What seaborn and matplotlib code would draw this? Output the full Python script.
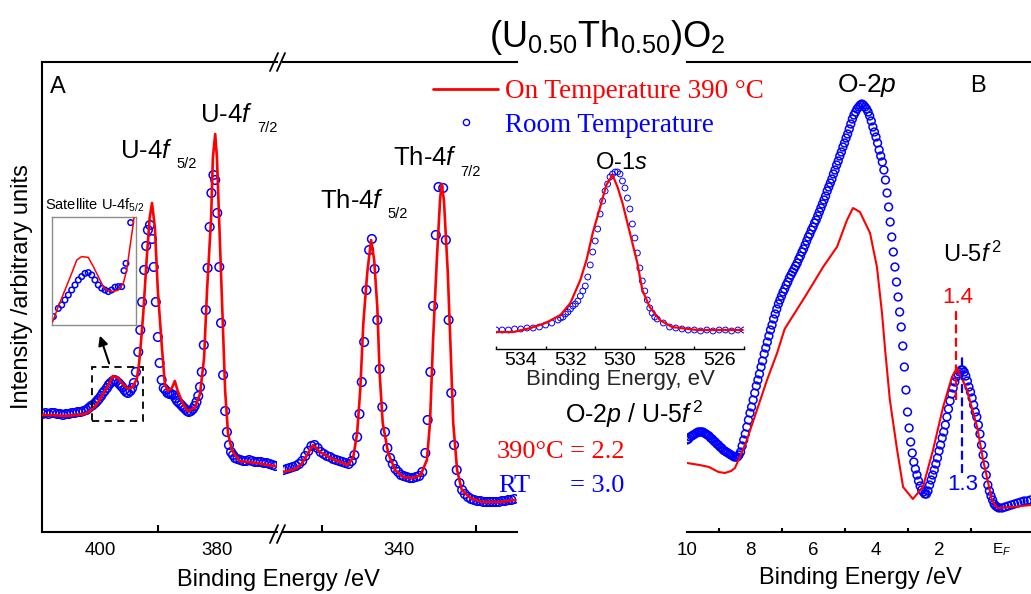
import matplotlib
matplotlib.use("Agg")
import matplotlib.pyplot as plt
from matplotlib.lines import Line2D
from matplotlib.patches import Rectangle, FancyArrowPatch
import seaborn as sns

sns.set_theme(style="white")
plt.rcParams["font.family"] = ["Liberation Sans", "DejaVu Sans"]
plt.rcParams["mathtext.fontset"] = "custom"
plt.rcParams["mathtext.rm"] = "Liberation Sans"
plt.rcParams["mathtext.it"] = "Liberation Sans:italic"
plt.rcParams["mathtext.bf"] = "Liberation Sans:bold"
plt.rcParams["axes.edgecolor"] = "black"
plt.rcParams["xtick.color"] = "black"
plt.rcParams["text.color"] = "black"

RED = "#ff0000"
BLUE = "#0000ff"
W, H = 1031, 594

# ---- panel A, U-4f region (binding energy eV, intensity a.u.) ----
red_a1_e = [409.9, 408.0, 406.0, 404.0, 402.5, 401.7, 400.6, 400.0, 398.8, 397.8,
            396.9, 396.1, 395.2, 394.4, 393.7, 393.3, 393.0, 392.6, 392.0, 391.5,
            391.1, 390.6, 390.1, 389.4, 388.9, 388.4, 387.7, 387.2, 386.7, 385.8,
            385.0, 383.8, 382.9, 382.2, 381.7, 381.0, 380.7, 380.3, 380.0, 379.5,
            379.0, 378.6, 378.1, 377.4, 376.1, 373.2, 370.4, 369.8]
red_a1_i = [117, 117, 116, 117, 118, 121, 127, 133, 144, 156,
            154, 148, 143, 145, 153, 169, 189, 218, 274, 314,
            329, 304, 241, 184, 148, 141, 144, 151, 141, 128,
            121, 124, 138, 174, 241, 314, 374, 398, 374, 291,
            208, 141, 98, 81, 71, 69, 66, 66]

blue_a1_e = [409.8, 409.3, 408.8, 408.3, 407.8, 407.3, 406.8, 406.3, 405.8, 405.3,
             404.8, 404.3, 403.8, 403.3, 402.8, 402.3, 401.9,
             401.5, 401.2, 400.8, 400.5, 400.2, 399.8, 399.5, 399.2, 398.8, 398.5,
             398.2, 397.8, 397.5, 397.2, 396.8, 396.5, 396.2, 395.8, 395.5, 395.2,
             394.8, 394.5, 394.2, 393.85,
             393.45, 393.1, 392.8, 392.45, 392.1, 391.8, 391.45, 391.1, 390.8, 390.45,
             390.1, 389.8, 389.45, 389.1,
             388.8, 388.45, 388.1, 387.8, 387.45, 387.1, 386.8, 386.45, 386.1, 385.8,
             385.45, 385.1, 384.8, 384.45, 384.1, 383.8, 383.5, 383.2,
             382.9, 382.6, 382.25, 381.9, 381.6, 381.25, 380.95, 380.6, 380.3, 379.95,
             379.6, 379.3, 378.95, 378.6, 378.3, 377.95, 377.6, 377.25,
             376.9, 376.5, 376.0, 375.5, 375.0, 374.5, 374.0, 373.5, 373.0, 372.5,
             372.0, 371.5, 371.0, 370.5, 370.0]
blue_a1_i = [118, 119, 118, 119, 119, 118, 118, 117, 118, 118,
             119, 119, 120, 120, 121, 122, 124,
             126, 127, 129, 131, 133, 136, 139, 141, 144, 147,
             149, 151, 152, 151, 149, 147, 145, 142, 140, 139,
             141, 144, 149, 160,
             180, 202, 230, 262, 286, 302, 307, 293, 265, 230,
             195, 169, 152, 144,
             142, 139, 138, 138, 137, 134, 131, 129, 127, 125,
             123, 121, 120, 121, 123, 126, 130, 136,
             145, 160, 187, 222, 264, 305, 339, 357, 352, 319,
             265, 209, 157, 121, 100, 87, 80, 77,
             74, 73, 72, 71, 71, 72, 71, 70, 70, 70,
             69, 69, 68, 67, 66]

# ---- panel A, Th-4f region ----
red_a2_e = [355.0, 354.5, 353.7, 353.0, 352.5, 351.7, 351.1, 350.2, 348.9, 347.6,
            346.6, 345.9, 345.4, 345.0, 344.6, 344.1, 343.6, 343.2, 342.8, 342.5,
            342.1, 341.4, 340.5, 339.5, 338.2, 337.2, 336.4, 336.0, 335.6, 335.1,
            334.7, 334.5, 334.2, 333.7, 333.3, 333.0, 332.5, 331.9, 330.8, 329.2,
            327.0, 325.0]
red_a2_i = [60, 61, 62, 65, 69, 79, 87, 80, 74, 70,
            67, 75, 99, 142, 209, 259, 292, 272, 225, 159,
            109, 79, 62, 55, 54, 57, 72, 109, 192, 275,
            332, 348, 332, 259, 175, 109, 62, 42, 34, 30,
            30, 32]

blue_a2_e = [354.9, 354.5, 354.1, 353.7, 353.3, 352.9, 352.5, 352.1, 351.7, 351.3,
             350.9, 350.5, 350.1, 349.7, 349.3, 348.9, 348.5, 348.1, 347.7, 347.3,
             346.9, 346.5, 346.1,
             345.75, 345.4, 345.1, 344.8, 344.5, 344.2, 343.85, 343.5, 343.15, 342.8,
             342.5, 342.15, 341.8, 341.5, 341.15, 340.8,
             340.45, 340.1, 339.75, 339.4, 339.0, 338.6, 338.2, 337.8, 337.4, 337.0,
             336.6, 336.3, 335.95, 335.6, 335.25, 334.9, 334.3, 333.95, 333.6, 333.25,
             332.9, 332.55, 332.2,
             331.85, 331.5, 331.1, 330.7, 330.3, 329.9, 329.5, 329.1, 328.7, 328.3,
             327.9, 327.5, 327.1, 326.7, 326.3, 325.9, 325.5, 325.1]
blue_a2_i = [62, 63, 64, 65, 66, 68, 71, 76, 81, 86,
             87, 84, 80, 78, 76, 75, 73, 72, 71, 70,
             69, 68, 71,
             77, 95, 118, 150, 190, 242, 282, 293, 263, 212,
             163, 125, 100, 84, 74, 68,
             63, 60, 57, 56, 55, 54, 54, 55, 56, 60,
             79, 112, 160, 226, 297, 345, 344, 292, 212, 139,
             87, 62, 49,
             42, 38, 35, 33, 32, 31, 31, 30, 30, 30,
             30, 30, 30, 31, 31, 32, 32, 33]

# ---- satellite U-4f5/2 close-up ----
sat_e_range = (401.4, 392.6)
sat_i_range = (111, 165)
red_s_e = [401.33, 400.74, 400.04, 399.34, 398.81, 398.29, 397.6, 397.07, 396.55,
           396.03, 395.67, 394.98, 394.45, 393.93, 393.57, 393.23, 392.88, 392.81]
red_s_i = [112.7, 120.2, 128.5, 136.8, 143.5, 145.2, 144.8, 140.2, 135.2,
           130.2, 128.5, 127.7, 128.5, 131.8, 138.5, 150.2, 161.8, 164.8]
blue_s_e = [401.26, 400.74, 400.38, 400.04, 399.69, 399.34, 398.99, 398.64, 398.29,
            397.94, 397.6, 397.24, 396.9, 396.55, 396.19, 395.85, 395.5, 395.15,
            394.8, 394.45, 394.1, 393.86, 393.65, 393.16]
blue_s_i = [115.2, 119.3, 121.0, 123.5, 126.0, 128.5, 131.0, 133.5, 135.2,
            136.8, 137.2, 136.0, 133.5, 131.0, 129.4, 128.5, 127.7, 128.5,
            129.9, 130.2, 130.2, 138.2, 141.8, 162.2]

# ---- O-1s inset ----
red_o_e = [535.0, 534.3, 533.6, 533.0, 532.4, 532.0, 531.6, 531.35, 531.1, 530.8,
           530.55, 530.3, 530.1, 529.9, 529.6, 529.3, 529.1, 528.8, 528.4, 527.9,
           526.9, 526.0, 525.05]
red_o_i = [17, 17, 21, 26, 34, 46, 69, 89, 116, 142,
           164, 174, 162, 146, 116, 86, 59, 42, 29, 22,
           19, 19, 19]
blue_o_e = [535.0, 534.75, 534.5, 534.25, 534.0, 533.75, 533.5, 533.25, 533.0, 532.75, 532.5,
            532.4, 532.3, 532.2, 532.1, 532.0, 531.9, 531.8, 531.7, 531.6, 531.5,
            531.4, 531.3, 531.2, 531.1, 531.0, 530.9, 530.8, 530.7, 530.6, 530.5,
            530.4, 530.3, 530.2, 530.1, 530.0, 529.9, 529.8, 529.7, 529.6, 529.5,
            529.4, 529.3, 529.2, 529.1, 529.0, 528.9, 528.8, 528.7, 528.6, 528.5,
            528.25, 528.0, 527.75, 527.5, 527.25, 527.0, 526.75, 526.5, 526.25, 526.0,
            525.75, 525.5, 525.25, 525.0]
blue_o_i = [19, 19, 19, 20, 20, 21, 21, 22, 24, 26, 29,
            31, 32, 35, 37, 40, 43, 45, 48, 53, 58,
            63, 72, 84, 97, 108, 120, 135, 148, 158, 165,
            172, 175, 177, 177, 175, 168, 161, 151, 140, 125,
            111, 96, 81, 68, 58, 49, 41, 36, 32, 30,
            26, 22, 21, 20, 19, 19, 18, 19, 18, 19,
            19, 18, 19, 19]

# ---- panel B, valence band ----
red_b_e = [10.0, 9.6, 9.3, 9.0, 8.8, 8.6, 8.48, 8.32, 8.1, 7.78,
           7.46, 7.14, 6.9, 6.6, 6.2, 5.68, 5.24, 4.92, 4.73, 4.51,
           4.19, 3.97, 3.81, 3.71, 3.56, 3.33, 3.14, 2.83, 2.51, 2.19,
           1.87, 1.59, 1.43, 1.11, 0.79, 0.60, 0.32, 0.16, -0.35, -0.92]
red_b_i = [69, 67, 65, 60, 59, 61, 64, 75, 92, 122,
           152, 179, 203, 218, 238, 265, 285, 312, 324, 320,
           299, 265, 219, 182, 132, 82, 45, 33, 45, 82,
           125, 155, 164, 142, 105, 72, 32, 24, 25, 27]

blue_b_e = [10.0, 9.95, 9.9, 9.85, 9.8, 9.75, 9.7, 9.65, 9.6, 9.55,
            9.5, 9.45, 9.4, 9.35, 9.3, 9.25, 9.2, 9.15, 9.1, 9.05,
            9.0, 8.95, 8.9, 8.85, 8.8, 8.75, 8.7, 8.65, 8.6, 8.55,
            8.5, 8.45, 8.4, 8.35, 8.3, 8.25, 8.2, 8.15, 8.1, 8.05,
            8.0, 7.95, 7.9, 7.85, 7.8, 7.75, 7.7, 7.65, 7.6, 7.55,
            7.5, 7.45, 7.4, 7.35, 7.3, 7.25, 7.2, 7.15, 7.1, 7.05,
            7.0, 6.95, 6.9, 6.85, 6.8, 6.75, 6.7, 6.65, 6.6, 6.55,
            6.5, 6.45, 6.4, 6.35, 6.3, 6.25, 6.2, 6.15, 6.1, 6.05,
            6.0, 5.95, 5.9, 5.85, 5.8, 5.75, 5.7, 5.65, 5.6, 5.55,
            5.5, 5.45, 5.4, 5.35, 5.3, 5.25, 5.2, 5.15, 5.1, 5.05,
            5.0, 4.95, 4.9, 4.85, 4.8, 4.75, 4.7, 4.65, 4.6, 4.55,
            4.5, 4.45, 4.4, 4.35, 4.3, 4.25, 4.2, 4.15, 4.1, 4.05,
            4.0,
            3.95, 3.9, 3.85, 3.8, 3.75, 3.7, 3.65, 3.6, 3.55, 3.5,
            3.45, 3.4, 3.35, 3.3, 3.25, 3.2, 3.15, 3.1, 3.05, 3.0,
            2.95, 2.9, 2.85, 2.8, 2.75,
            2.7, 2.65, 2.6, 2.55, 2.5, 2.45, 2.4, 2.35, 2.3, 2.25,
            2.2, 2.15, 2.1, 2.05, 2.0, 1.95, 1.9, 1.85, 1.8, 1.75,
            1.7, 1.65, 1.6, 1.55, 1.5, 1.45, 1.4, 1.35, 1.3, 1.25,
            1.2, 1.15, 1.1, 1.05, 1.0, 0.95, 0.9, 0.85, 0.8, 0.75,
            0.7, 0.65, 0.6, 0.55, 0.5, 0.45, 0.4, 0.35, 0.3, 0.25,
            0.2, 0.15,
            0.1, 0.0, -0.1, -0.2, -0.3, -0.4, -0.5, -0.6, -0.7, -0.8, -0.9]
blue_b_i = [92, 93, 95, 96, 97, 98, 99, 100, 100, 100,
            100, 99, 98, 97, 96, 94, 93, 91, 90, 88,
            87, 85, 84, 82, 81, 80, 79, 78, 77, 76,
            75, 75, 75, 77, 80, 86, 92, 98, 105, 112,
            119, 125, 132, 139, 146, 152, 158, 165, 171, 178,
            184, 190, 196, 202, 207, 213, 218, 223, 228, 232,
            236, 240, 243, 247, 250, 254, 257, 260, 263, 266,
            269, 273, 276, 280, 283, 287, 291, 295, 298, 302,
            305, 309, 312, 316, 320, 324, 328, 332, 336, 341,
            345, 349, 353, 358, 362, 367, 371, 376, 380, 385,
            389, 394, 398, 403, 408, 413, 417, 420, 423, 425,
            427, 428, 427, 425, 423, 420, 416, 411, 405, 400,
            395,
            389, 382, 376, 370, 362, 352, 339, 325, 310, 295,
            280, 265, 250, 235, 220, 205, 186, 165, 142, 120,
            104, 90, 79, 70, 63,
            57, 51, 46, 42, 40, 38, 38, 41, 47, 52,
            57, 62, 68, 74, 81, 87, 94, 100, 107, 115,
            123, 131, 138, 144, 150, 155, 158, 160, 162, 162,
            160, 156, 151, 145, 140, 134, 127, 120, 115, 107,
            98, 87, 77, 67, 57, 47, 41, 36, 32, 28,
            26, 25,
            24, 24, 25, 26, 27, 28, 29, 30, 31, 31, 32]

red_peak_e, red_peak_span = 1.45, (132, 225)
blue_peak_e, blue_peak_span = 1.28, (59, 175)


def fx(x):
    return x / W


def fy(y):
    return 1 - y / H


def box(x0, y0, x1, y1):
    return [fx(x0), fy(y1), (x1 - x0) / W, (y1 - y0) / H]


def draw(ax, e_red, i_red, e_blue, i_blue, ms, mew, lw):
    sns.scatterplot(x=e_blue, y=i_blue, ax=ax, marker="o", s=ms ** 2,
                    linewidth=mew, legend=False, zorder=2)
    coll = ax.collections[-1]
    coll.set_facecolor("none")
    coll.set_edgecolor(BLUE)
    coll.set_linewidth(mew)
    sns.lineplot(x=e_red, y=i_red, ax=ax, color=RED, lw=lw,
                 estimator=None, sort=False, zorder=3)


def style(ax, spines):
    for side, sp in ax.spines.items():
        sp.set_visible(side in spines)
        sp.set_linewidth(1.5)
        sp.set_color("black")
    ax.set_facecolor("none")
    ax.set_yticks([])
    ax.set_xlabel("")
    ax.set_ylabel("")
    ax.grid(False)


def label(x, y, s, **kw):
    kw.setdefault("ha", "left")
    kw.setdefault("va", "baseline")
    fig.text(fx(x), fy(y), s, **kw)


fig = plt.figure(figsize=(W / 100, H / 100), dpi=100)
axL = fig.add_axes(box(42, 62, 277, 532))
axR = fig.add_axes(box(283, 62, 517, 532))
axB = fig.add_axes(box(687, 62, 1031, 532))
axO = fig.add_axes(box(496, 150, 744, 349))
axS = fig.add_axes(box(52, 217, 136, 325))

draw(axL, red_a1_e, red_a1_i, blue_a1_e, blue_a1_i, 6.2, 1.1, 1.9)
draw(axR, red_a2_e, red_a2_i, blue_a2_e, blue_a2_i, 6.2, 1.1, 1.9)
draw(axB, red_b_e, red_b_i, blue_b_e, blue_b_i, 5.6, 1.1, 1.5)
draw(axO, red_o_e, red_o_i, blue_o_e, blue_o_i, 4.2, 0.7, 1.6)
draw(axS, red_s_e, red_s_i, blue_s_e, blue_s_i, 4.0, 1.1, 1.1)

# panel A (broken axis)
style(axL, ["left", "top", "bottom"])
axL.set_xlim(409.9, 369.74)
axL.set_ylim(0, 470)
axL.set_xticks([400, 380])
axL.set_xticks([390], minor=True)
style(axR, ["top", "bottom"])
axR.set_xlim(354.97, 324.77)
axR.set_ylim(0, 470)
axR.set_xticks([340])
axR.set_xticks([350, 330], minor=True)
for ax in (axL, axR):
    ax.tick_params(axis="x", which="major", direction="in", length=8, width=1.5,
                   labelsize=13.5, pad=7, top=False)
    ax.tick_params(axis="x", which="minor", direction="in", length=5, width=1.5,
                   bottom=True, top=False)

axL.add_patch(Rectangle((sat_e_range[0], sat_i_range[0]),
                        sat_e_range[1] - sat_e_range[0],
                        sat_i_range[1] - sat_i_range[0],
                        fill=False, ec="black", lw=1.3, ls=(0, (4, 3)), zorder=4))

# satellite close-up
style(axS, ["left", "right", "top", "bottom"])
for sp in axS.spines.values():
    sp.set_color("#8c8c8c")
    sp.set_linewidth(1.0)
axS.set_xlim(*sat_e_range)
axS.set_ylim(*sat_i_range)
axS.set_xticks([])

# O-1s inset
style(axO, ["bottom"])
axO.spines["bottom"].set_linewidth(1.0)
axO.set_xlim(535, 525)
axO.set_ylim(0, 199)
axO.set_xticks([534, 532, 530, 528, 526])
axO.set_xticks([535, 533, 531, 529, 527, 525], minor=True)
axO.tick_params(axis="x", which="major", direction="in", length=4, width=1.0,
                labelsize=14, pad=2)
axO.tick_params(axis="x", which="minor", direction="in", length=2.5, width=1.0,
                bottom=True)
axO.set_xlabel("Binding Energy, eV", fontsize=16, labelpad=0)

# panel B
style(axB, ["top", "bottom"])
axB.set_xlim(10.0, -0.92)
axB.set_ylim(0, 470)
axB.set_xticks([10, 8, 6, 4, 2, 0], labels=["10", "8", "6", "4", "2", "E$_F$"])
axB.set_xticks([9, 7, 5, 3, 1], minor=True)
axB.tick_params(axis="x", which="major", direction="in", length=5, width=1.5,
                labelsize=13.5, pad=7, top=False)
axB.tick_params(axis="x", which="minor", direction="in", length=3, width=1.5,
                bottom=True, top=False)
axB.get_xticklabels()[-1].set_fontsize(11)
axB.vlines(red_peak_e, *red_peak_span, colors=RED, lw=1.6, linestyles=(0, (4, 2)), zorder=4)
axB.vlines(blue_peak_e, *blue_peak_span, colors=BLUE, lw=1.6, linestyles=(0, (4, 2)), zorder=4)

# axis break marks
for x0 in (270, 277):
    for yb in (71, 543):
        fig.add_artist(Line2D([fx(x0), fx(x0 + 8)], [fy(yb), fy(yb - 18)],
                              color="black", lw=1.3, transform=fig.transFigure))

# arrow from dashed box to close-up
fig.add_artist(FancyArrowPatch(
    (fx(110), fy(366)), (fx(99), fy(333)), transform=fig.transFigure,
    arrowstyle="-|>", mutation_scale=14, color="black", lw=1.5))

# texts
fig.text(fx(607), fy(47), r"(U$_{0.50}$Th$_{0.50}$)O$_2$", fontsize=26,
         ha="center", va="baseline")
label(50, 93, "A", fontsize=17)
label(970, 92, "B", fontsize=17)
label(120, 158, r"U-4$\mathit{f}$", fontsize=18.5)
label(176, 168, "5/2", fontsize=10.5)
label(200, 122, r"U-4$\mathit{f}$", fontsize=18.5)
label(257, 131.5, "7/2", fontsize=10.5)
label(320, 208, r"Th-4$\mathit{f}$", fontsize=18.5)
label(387, 218, "5/2", fontsize=10.5)
label(393, 165, r"Th-4$\mathit{f}$", fontsize=18.5)
label(460, 176.5, "7/2", fontsize=10.5)
label(45, 210, r"Satellite U-4f$_{5/2}$", fontsize=10.5)
fig.text(fx(621), fy(169), r"O-$\mathit{1s}$", fontsize=17, ha="center", va="baseline")
label(837, 92, r"O-$\mathit{2p}$", fontsize=19)
label(943, 262, r"U-$\mathit{5f}^{\,2}$", fontsize=17)
label(942, 303, "1.4", fontsize=16, color=RED)
label(947, 490, "1.3", fontsize=16, color=BLUE)
label(565, 423, r"O-$\mathit{2p}$ / U-$\mathit{5f}^{\,2}$", fontsize=18)
serif = ["Liberation Serif", "DejaVu Serif"]
label(497, 458, "390°C", fontsize=19, color=RED, family=serif)
label(570, 458, "= 2.2", fontsize=19, color=RED, family=serif)
label(498, 492, "RT", fontsize=19, color=BLUE, family=serif)
label(570, 492, "= 3.0", fontsize=19, color=BLUE, family=serif)

fig.text(fx(22), fy(287), "Intensity /arbitrary units", fontsize=17,
         rotation=90, ha="center", va="center")
fig.text(fx(278), fy(580), "Binding Energy /eV", fontsize=17, ha="center", va="center")
fig.text(fx(860), fy(578), "Binding Energy /eV", fontsize=17, ha="center", va="center")

handles = [Line2D([0], [0], color=RED, lw=2),
           Line2D([0], [0], ls="none", marker="o", mfc="none", mec=BLUE, ms=4.5, mew=1)]
leg = fig.legend(handles, ["On Temperature 390 °C", "Room Temperature"],
                 loc="upper left", bbox_to_anchor=(fx(433), fy(79)), frameon=False,
                 prop={"family": serif, "size": 19.5}, handlelength=2.4,
                 handletextpad=0.25, borderpad=0, borderaxespad=0, labelspacing=0.33)
for txt, col in zip(leg.get_texts(), (RED, BLUE)):
    txt.set_color(col)

fig.savefig("out.png", dpi=100, facecolor="white")
